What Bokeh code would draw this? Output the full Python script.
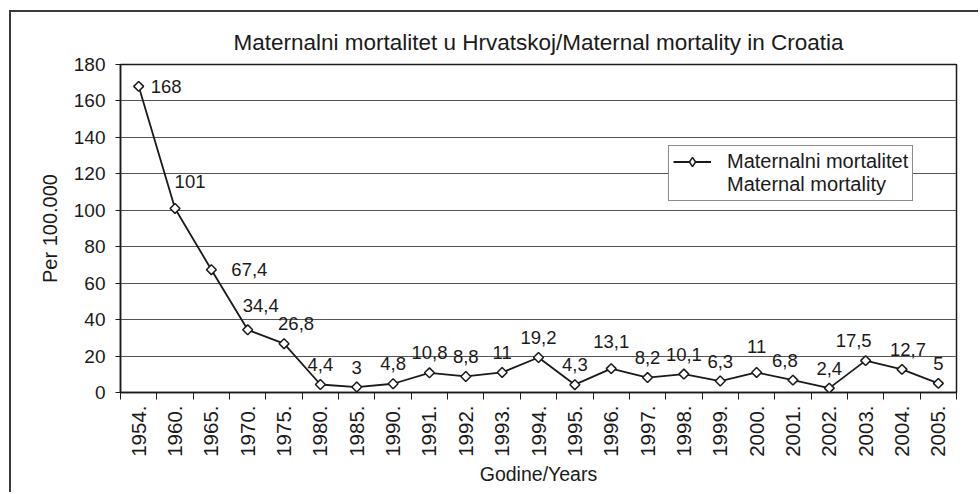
import math
from bokeh.plotting import figure
from bokeh.models import (ColumnDataSource, Range1d, FixedTicker, Legend, LegendItem)
from bokeh.core.properties import value
from bokeh.embed import file_html
from bokeh.resources import INLINE

# ---- data ----
years = ["1954", "1960", "1965", "1970", "1975", "1980", "1985", "1990", "1991", "1992",
         "1993", "1994", "1995", "1996", "1997", "1998", "1999", "2000", "2001", "2002",
         "2003", "2004", "2005"]
mortality = [168, 101, 67.4, 34.4, 26.8, 4.4, 3, 4.8, 10.8, 8.8,
             11, 19.2, 4.3, 13.1, 8.2, 10.1, 6.3, 11, 6.8, 2.4,
             17.5, 12.7, 5]
y_ticks = [0, 20, 40, 60, 80, 100, 120, 140, 160, 180]

title_text = "Maternalni mortalitet u Hrvatskoj/Maternal mortality in Croatia"
legend_line1 = "Maternalni mortalitet"
legend_line2 = "Maternal mortality"
x_title = "Godine/Years"
y_title = "Per 100.000"

FONT = "Liberation Sans"
INK = "#1a1a1a"

xs = list(range(len(years)))
labels = [f"{v:g}".replace(".", ",") for v in mortality]

# label placement (screen offsets): most above the point, a few nudged as in the original
x_off = [0] * len(years)
y_off = [-20] * len(years)
align = ["center"] * len(years)
x_off[0], y_off[0], align[0] = 12, 0, "left"
x_off[1], y_off[1] = 15, -27
x_off[2], y_off[2], align[2] = 20, 0, "left"
x_off[3], y_off[3] = 13, -24
x_off[4] = 12
y_off[13] = -27
y_off[17] = -26
x_off[18] = -8
x_off[20] = -12
x_off[21] = 6
marker_angle = [math.pi / 4] * len(years)

src = ColumnDataSource(dict(x=xs, y=mortality, lab=labels, xo=x_off, yo=y_off, al=align,
                            ang=marker_angle))

p = figure(width=969, height=482, output_backend="svg", toolbar_location=None,
           x_range=Range1d(-0.5, len(years) - 0.5), y_range=Range1d(0, 180),
           min_border_left=109, min_border_right=24, min_border_top=52, min_border_bottom=102,
           background_fill_color="white", border_fill_color="white")
p.styles = {"border-left": "2px solid #3a3a3a", "border-top": "2px solid #3a3a3a",
            "margin-left": "9px", "margin-top": "10px"}

p.title.text = title_text
p.title.align = "center"
p.title.text_font = FONT
p.title.text_font_size = "22.5px"
p.title.text_font_style = "normal"
p.title.text_color = INK
p.title.standoff = 19

p.outline_line_color = INK
p.outline_line_width = 1.5

# grid
p.xgrid.grid_line_color = None
p.ygrid.ticker = FixedTicker(ticks=y_ticks)
p.ygrid.grid_line_color = "#555555"
p.ygrid.grid_line_width = 1

# x axis: labels at category centers, tick marks at category boundaries
xa = p.xaxis[0]
xa.ticker = FixedTicker(ticks=xs, minor_ticks=[i - 0.5 for i in range(len(years) + 1)])
xa.major_label_overrides = {i: f"{y}." for i, y in zip(xs, years)}
xa.major_tick_line_color = None
xa.minor_tick_line_color = INK
xa.minor_tick_out = 7
xa.minor_tick_in = 0
xa.minor_tick_line_width = 1
xa.major_label_orientation = math.pi / 2
xa.major_label_text_font = FONT
xa.major_label_text_font_size = "20.5px"
xa.major_label_text_color = INK
xa.major_label_standoff = 6
xa.axis_line_color = INK
xa.axis_line_width = 1.5
xa.axis_label = x_title
xa.axis_label_text_font = FONT
xa.axis_label_text_font_size = "19.5px"
xa.axis_label_text_font_style = "normal"
xa.axis_label_text_color = INK
xa.axis_label_standoff = 3

ya = p.yaxis[0]
ya.ticker = FixedTicker(ticks=y_ticks)
ya.major_tick_out = 5
ya.major_tick_in = 0
ya.major_tick_line_color = INK
ya.minor_tick_line_color = None
ya.major_label_text_font = FONT
ya.major_label_text_font_size = "19px"
ya.major_label_text_color = INK
ya.major_label_standoff = 10
ya.axis_line_color = INK
ya.axis_line_width = 1.5
ya.axis_label = y_title
ya.axis_label_text_font = FONT
ya.axis_label_text_font_size = "20px"
ya.axis_label_text_font_style = "normal"
ya.axis_label_text_color = INK
ya.axis_label_standoff = 10

line_r = p.line("x", "y", source=src, line_color=INK, line_width=1.8)
# diamond key for the legend (sits fully hidden beneath the point markers)
key_marker = p.scatter("x", "y", source=src, marker="diamond", size=6,
                       fill_color="white", line_color=INK, line_width=1.5)
pts_r = p.scatter("x", "y", source=src, marker="square", angle="ang", size=7,
                  fill_color="white", line_color=INK, line_width=1.5)

p.text("x", "y", text="lab", source=src, x_offset="xo", y_offset="yo",
       text_align="al", text_baseline="middle",
       text_font=value(FONT), text_font_size="18.5px", text_color=INK)

blank = p.line(x=[], y=[], line_alpha=0)

legend = Legend(items=[LegendItem(label=legend_line1, renderers=[line_r, key_marker]),
                       LegendItem(label=legend_line2, renderers=[blank])],
                location=(548, 191))
legend.label_text_font = FONT
legend.label_text_font_size = "20px"
legend.label_text_color = INK
legend.glyph_width = 38
legend.glyph_height = 23
legend.label_height = 23
legend.label_standoff = 16
legend.spacing = 0
legend.padding = 4
legend.margin = 0
legend.border_line_color = INK
legend.border_line_width = 1
legend.background_fill_color = "white"
legend.background_fill_alpha = 1
p.add_layout(legend, "center")

open("out.html", "w").write(file_html(p, INLINE))
